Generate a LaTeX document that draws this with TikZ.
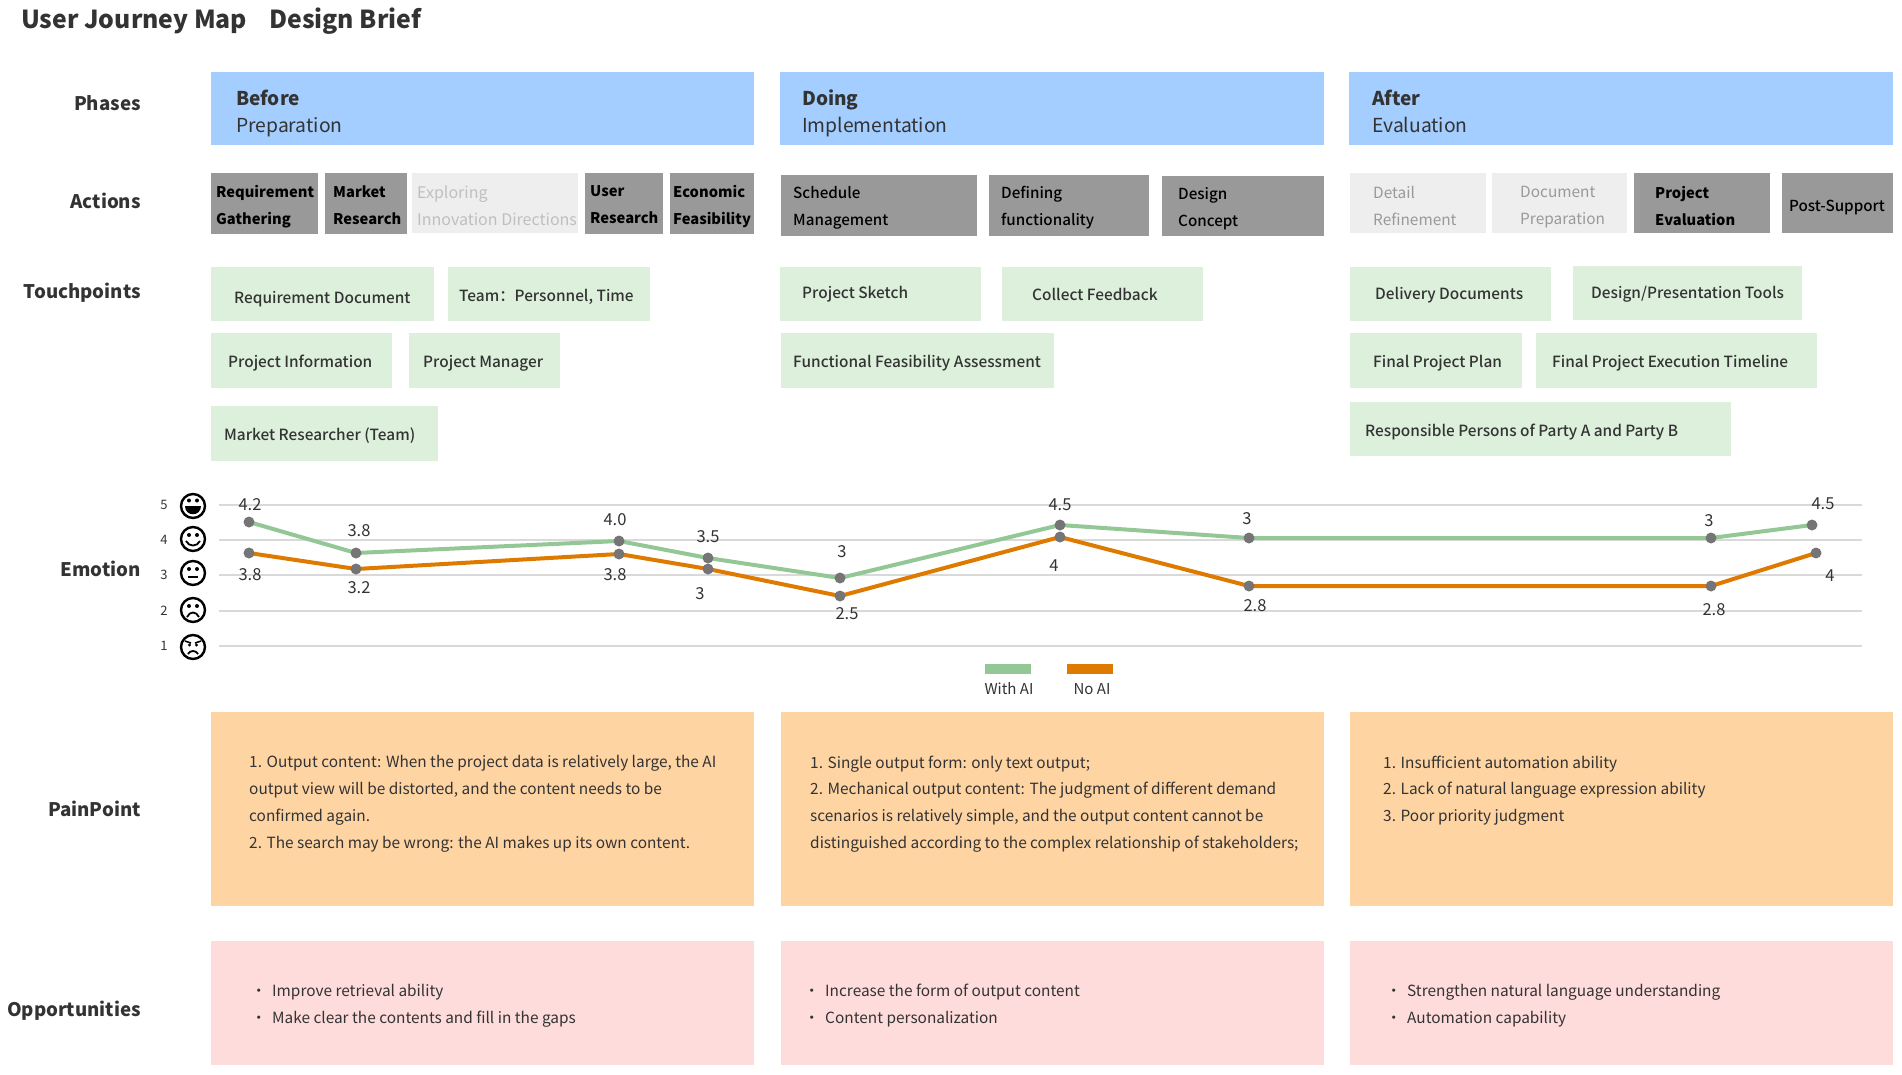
\documentclass[tikz,border=0pt]{standalone}
\usepackage{fontspec}
\setmainfont{Noto Sans CJK SC}
\newfontfamily\medfont{Noto Sans CJK SC Medium}
\definecolor{phaseblue}{HTML}{A3CEFF}
\definecolor{actdark}{HTML}{999999}
\definecolor{actlight}{HTML}{EEEEEE}
\definecolor{touchgreen}{HTML}{DCF0DC}
\definecolor{painorange}{HTML}{FFD4A3}
\definecolor{opppink}{HTML}{FFDCDC}
\definecolor{inkgrey}{HTML}{333333}
\definecolor{withai}{HTML}{93C795}
\definecolor{noai}{HTML}{DF7A00}
\definecolor{dotgrey}{HTML}{757575}
\definecolor{gridgrey}{HTML}{D9D9D9}
\tikzset{
  block/.style = {anchor=north west, inner sep=0pt, minimum width={(#1)*1pt}},
  word/.style = {anchor=west, inner sep=0pt, align=left, text=inkgrey,
    execute at begin node=\strut, execute at end node=\strut},
  rowname/.style = {anchor=east, inner sep=0pt, text=inkgrey, font=\fontsize{18.7}{25}\bfseries,
    execute at begin node=\strut},
  chartnum/.style = {inner sep=0pt, text=inkgrey, font=\fontsize{16.5}{20}\selectfont},
  ticknum/.style = {inner sep=0pt, text=inkgrey, font=\fontsize{13}{16}\selectfont},
  bodytext/.style = {anchor=north west, inner sep=0pt, align=left, text=inkgrey,
    font=\fontsize{15.4}{26.7}\selectfont},
  dot/.style = {circle, fill=dotgrey, inner sep=0pt, minimum size=11pt},
  facering/.style = {circle, draw=black, line width=2.4pt, fill=white, inner sep=0pt, minimum size=24pt}
}
\begin{document}
\begin{tikzpicture}[x=1pt, y=-1pt]
  \useasboundingbox (0,0) rectangle (1902,1074);
  % title and row names
  \node[word, font=\fontsize{24.8}{30}\bfseries] (title) at (21,22.5) {User Journey Map\hspace{22pt}Design Brief};
  \foreach \name/\ty/\txt in {rphase/105/Phases, raction/203/Actions, rtouch/293/Touchpoints,
      remotion/571/Emotion, rpain/811/PainPoint, ropp/1011/Opportunities}
    \node[rowname] (\name) at (141,\ty) {\txt};
  % phases
  \foreach \name/\xa/\xb/\tx/\one/\two in {before/211/754/236/Before/Preparation,
      doing/780/1324/802/Doing/Implementation, after/1349/1893/1372/After/Evaluation} {
    \node[block=\xb-\xa, fill=phaseblue, minimum height=73pt] (\name) at (\xa,72) {};
    \node[word, font=\fontsize{19}{25}\bfseries] (\name-a) at (\tx,100) {\one};
    \node[word, font=\fontsize{19.3}{25}\selectfont] (\name-b) at (\tx,127) {\two};
  }
  % actions
  \foreach \name/\xa/\xb/\ya/\yb/\tx/\ty/\txt in {
      req/211/318/173/234/216/209/{Requirement\\Gathering},
      market/325/407/173/234/333/209/{Market\\Research},
      user/585/663/173/234/590/209/{User\\Research},
      econ/670/754/173/234/673/209/{Economic\\Feasibility},
      project/1634/1770/173/233/1655/210/{Project\\Evaluation}}
    \node[block=\xb-\xa, fill=actdark, minimum height={(\yb-\ya)*1pt}] (\name) at (\xa,\ya) {}
      node[word, text=black, font=\fontsize{14.7}{27}\bfseries] at (\tx,\ty) {\txt};
  \foreach \name/\xa/\xb/\ya/\yb/\tx/\ty/\txt in {
      sched/781/977/175/236/793/210/{Schedule\\Management},
      define/989/1149/175/236/1001/210/{Defining\\functionality},
      concept/1162/1324/176/236/1178/211/{Design\\Concept},
      postsup/1782/1893/173/233/1789/206.5/{Post-Support}}
    \node[block=\xb-\xa, fill=actdark, minimum height={(\yb-\ya)*1pt}] (\name) at (\xa,\ya) {}
      node[word, text=black, font=\fontsize{15.2}{27}\medfont] at (\tx,\ty) {\txt};
  \foreach \name/\xa/\xb/\tx/\col/\size/\txt in {
      explore/412/578/417/BFBFBF/16/{Exploring\\Innovation Directions},
      detail/1350/1486/1373/999999/15.4/{Detail\\Refinement},
      docprep/1492/1627/1520/999999/15.4/{Document\\Preparation}} {
    \definecolor{thisgrey}{HTML}{\col}
    \node[block=\xb-\xa, fill=actlight, minimum height=60pt] (\name) at (\xa,173) {}
      node[word, text=thisgrey, font=\fontsize{\size}{27}\selectfont] at (\tx,209.5) {\txt};
  }
  % touchpoints
  \foreach \name/\xa/\xb/\ya/\yb/\tx/\ty/\txt in {
      reqdoc/211/434/267/321/234/299.5/{Requirement Document},
      team/448/650/267/321/459/297/{Team：Personnel, Time},
      info/211/392/333/388/228/363.5/{Project Information},
      manager/409/560/333/388/423/363.5/{Project Manager},
      researcher/211/438/406/461/224/436.5/{Market Researcher (Team)},
      sketch/780/981/267/321/802/294/{Project Sketch},
      feedback/1002/1203/267/321/1032/296.5/{Collect Feedback},
      feasible/781/1054/333/388/793/363.5/{Functional Feasibility Assessment},
      delivery/1350/1551/267/321/1375/295.5/{Delivery Documents},
      tools/1573/1802/266/320/1591/294.5/{Design/Presentation Tools},
      plan/1350/1522/333/388/1373/363.5/{Final Project Plan},
      timeline/1536/1817/333/388/1552/363.5/{Final Project Execution Timeline},
      persons/1350/1731/402/456/1365/432.5/{Responsible Persons of Party A and Party B}}
    \node[block=\xb-\xa, fill=touchgreen, minimum height={(\yb-\ya)*1pt}] (\name) at (\xa,\ya) {}
      node[word, font=\fontsize{15.4}{20}\medfont] at (\tx,\ty) {\txt};
  % emotion grid with faces
  \foreach \lev/\ty in {5/505, 4/540, 3/575, 2/611, 1/646} {
    \coordinate (gl\lev) at (219,\ty);
    \coordinate (gr\lev) at (1862,\ty);
    \draw[gridgrey, line width=2pt] (gl\lev) -- (gr\lev);
    \node[ticknum] (tick\lev) at (164,\ty) {\lev};
  }
  \foreach \lev/\ty in {5/506, 4/539, 3/573, 2/610, 1/647}
    \node[facering] (face\lev) at (193,\ty) {};
  \begin{scope}[shift={(face5)}]
    \fill (-4,-5.5) circle (2) (4,-5.5) circle (2);
    \fill (-8,0) -- (8,0) .. controls (8,11) and (-8,11) .. cycle;
  \end{scope}
  \begin{scope}[shift={(face4)}]
    \fill (-4,-4) circle (2) (4,-4) circle (2);
    \draw[line width=1.8pt] (-7,2) .. controls (-4,8) and (4,8) .. (7,2);
  \end{scope}
  \begin{scope}[shift={(face3)}]
    \fill (-4,-4) circle (2) (4,-4) circle (2);
    \draw[line width=1.8pt] (-5,4) -- (5,4);
  \end{scope}
  \begin{scope}[shift={(face2)}]
    \fill (-4,-4) circle (2) (4,-4) circle (2);
    \draw[line width=1.8pt] (-6,7) .. controls (-3,1) and (3,1) .. (6,7);
  \end{scope}
  \begin{scope}[shift={(face1)}]
    \fill (-3.5,-2) circle (1.6) (3.5,-2) circle (1.6);
    \draw[line width=1.6pt] (-8,-6) -- (-2,-4) (8,-6) -- (2,-4);
    \draw[line width=1.8pt] (-5,7) .. controls (-3,3) and (3,3) .. (5,7);
  \end{scope}
  % emotion curves
  \foreach \name/\cx/\cy in {g1/249/522, g2/356/553, g3/619/541, g4/708/558, g5/840/578,
      g6/1060/525, g7/1249/538, g8/1711/538, g9/1812/525,
      o1/249/553, o2/356/569, o3/619/554, o4/708/569, o5/840/596,
      o6/1060/537, o7/1249/586, o8/1711/586, o9/1816/553}
    \coordinate (\name) at (\cx,\cy);
  \draw[withai, line width=4pt] (g1) -- (g2) -- (g3) -- (g4) -- (g5) -- (g6) -- (g7) -- (g8) -- (g9);
  \draw[noai, line width=4pt] (o1) -- (o2) -- (o3) -- (o4) -- (o5) -- (o6) -- (o7) -- (o8) -- (o9);
  \foreach \name in {g1,g2,g3,g4,g5,g6,g7,g8,g9,o1,o2,o3,o4,o5,o6,o7,o8,o9}
    \node[dot] (\name-dot) at (\name) {};
  % point values
  \foreach \name/\tx/\ty/\txt in {v1/250/505/4.2, v2/359/531/3.8, v3/615/520/4.0, v4/708/537/3.5,
      v5/842/552/3, v6/1060/505/4.5, v7/1247/519/3, v8/1709/521/3, v9/1823/504/4.5,
      w1/250/575/3.8, w2/359/588/3.2, w3/615/575/3.8, w4/700/594/3, w5/847/614/2.5,
      w6/1054/566/4, w7/1255/606/2.8, w8/1714/610/2.8, w9/1830/576/4}
    \node[chartnum] (\name) at (\tx,\ty) {\txt};
  % legend
  \node[block=46, fill=withai, minimum height=10pt] (keywith) at (985,664) {};
  \node[block=46, fill=noai, minimum height=10pt] (keyno) at (1067,664) {};
  \node[inner sep=0pt, text=inkgrey, font=\fontsize{15}{18}\selectfont] (labwith) at (1009,689) {With AI};
  \node[inner sep=0pt, text=inkgrey, font=\fontsize{15}{18}\selectfont] (labno) at (1092,689) {No AI};
  % pain points
  \foreach \name/\xa/\xb in {painb/211/754, paind/781/1324, paina/1350/1893}
    \node[block=\xb-\xa, fill=painorange, minimum height=194pt] (\name) at (\xa,712) {};
  \node[bodytext] (painbt) at (249,755.5) {1. Output content: When the project data is relatively large, the AI\\
    output view will be distorted, and the content needs to be\\confirmed again.\\
    2. The search may be wrong: the AI makes up its own content.};
  \node[bodytext] (paindt) at (810,755.5) {1. Single output form: only text output;\\
    2. Mechanical output content: The judgment of different demand\\
    scenarios is relatively simple, and the output content cannot be\\
    distinguished according to the complex relationship of stakeholders;};
  \node[bodytext] (painat) at (1383,755.5) {1. Insufficient automation ability\\
    2. Lack of natural language expression ability\\3. Poor priority judgment};
  % opportunities
  \foreach \name/\xa/\xb in {oppb/211/754, oppd/781/1324, oppa/1350/1893}
    \node[block=\xb-\xa, fill=opppink, minimum height=124pt] (\name) at (\xa,941) {};
  \foreach \name/\tx/\one/\two in {oppbt/251/Improve retrieval ability/Make clear the contents and fill in the gaps,
      oppdt/804/Increase the form of output content/Content personalization,
      oppat/1386/Strengthen natural language understanding/Automation capability}
    \node[bodytext] (\name) at (\tx,984) {\makebox[21pt][l]{·}\one\\\makebox[21pt][l]{·}\two};
\end{tikzpicture}
\end{document}
